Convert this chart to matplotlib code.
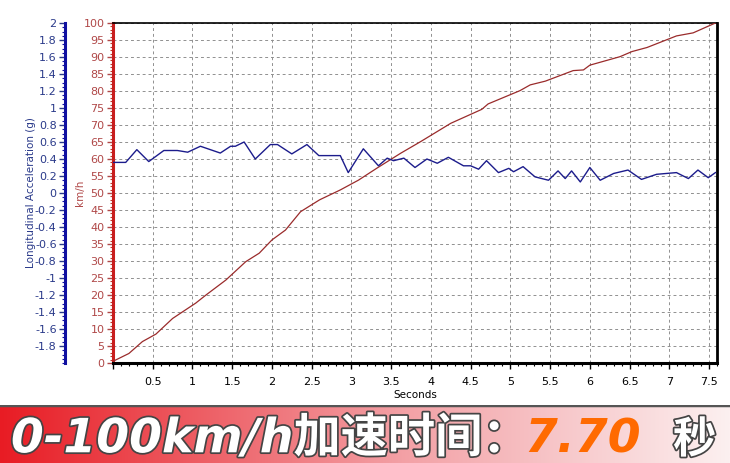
import numpy as np
import matplotlib.pyplot as plt
import matplotlib.patheffects as pe
from matplotlib.ticker import MultipleLocator, FuncFormatter

# speed trace (km/h)
speed_t = [0.0, 0.20, 0.37, 0.54, 0.75, 1.04, 1.17, 1.42, 1.67, 1.84, 2.00, 2.17,
           2.36, 2.60, 2.86, 3.09, 3.32, 3.62, 3.87, 4.25, 4.64, 4.72, 5.12, 5.25,
           5.44, 5.79, 5.92, 6.00, 6.38, 6.53, 6.72, 7.09, 7.30, 7.58]
speed_v = [0.5, 2.8, 6.3, 8.5, 13.1, 17.6, 20.0, 24.4, 29.8, 32.3, 36.2, 39.1,
           44.5, 48.0, 50.9, 53.8, 57.3, 61.7, 65.1, 70.5, 74.6, 76.2, 80.1, 81.8,
           82.9, 86.0, 86.2, 87.6, 90.1, 91.6, 92.8, 96.2, 97.1, 100.0]

# longitudinal acceleration trace (g)
acc_t = [0.0, 0.16, 0.30, 0.45, 0.64, 0.81, 0.94, 1.10, 1.35, 1.48, 1.54, 1.65,
         1.79, 1.98, 2.07, 2.25, 2.44, 2.59, 2.86, 2.96, 3.15, 3.34, 3.45, 3.53,
         3.66, 3.80, 3.95, 4.08, 4.22, 4.41, 4.50, 4.60, 4.70, 4.85, 4.98, 5.04,
         5.16, 5.31, 5.48, 5.60, 5.69, 5.77, 5.88, 6.00, 6.13, 6.30, 6.48, 6.65,
         6.84, 7.09, 7.24, 7.36, 7.49, 7.58]
acc_g = [0.36, 0.36, 0.51, 0.37, 0.50, 0.50, 0.48, 0.55, 0.47, 0.55, 0.55, 0.60,
         0.40, 0.57, 0.57, 0.46, 0.57, 0.44, 0.44, 0.24, 0.52, 0.32, 0.41, 0.38,
         0.41, 0.30, 0.40, 0.35, 0.42, 0.32, 0.32, 0.28, 0.38, 0.24, 0.29, 0.25,
         0.31, 0.19, 0.15, 0.26, 0.17, 0.26, 0.13, 0.30, 0.15, 0.23, 0.27, 0.16,
         0.22, 0.24, 0.17, 0.27, 0.18, 0.24]

banner_text = "0-100km/h加速时间："
banner_time = "7.70"
banner_unit = "秒"

RED = '#c0392b'
RED_TXT = '#b04848'
BLUE = '#1c1c8c'
BLUE_TXT = '#2a3a8a'


def fmt_num(v, p):
    v = round(v, 2)
    if v == 0:
        return '0'
    return f'{v:g}'


fig = plt.figure(figsize=(7.3, 4.63), dpi=100)
ax = fig.add_axes([113/730, 1-363/463, 604/730, 340/463])

# velocity axis
ax.plot(speed_t, speed_v, color='#9a2b2b', lw=0.9, zorder=3)
ax.set_xlim(0, 7.6)
ax.set_ylim(0, 100)
ax.yaxis.set_major_locator(MultipleLocator(5))
ax.yaxis.set_minor_locator(MultipleLocator(1))
ax.xaxis.set_major_locator(MultipleLocator(0.5))
ax.xaxis.set_minor_locator(MultipleLocator(0.1))
ax.xaxis.set_major_formatter(FuncFormatter(lambda v, p: '' if abs(v) < 1e-9 else f'{v:g}'))
ax.grid(True, which='major', color='#909090', ls=(0, (3, 3)), lw=0.7)
ax.tick_params(axis='y', which='major', colors=RED_TXT, labelsize=8, length=4, width=1, pad=2)
ax.tick_params(axis='y', which='minor', colors=RED, length=2, width=0.8)
ax.tick_params(axis='x', which='major', colors='black', labelsize=8, length=4, width=1, pad=6)
ax.tick_params(axis='x', which='minor', colors='black', length=2, width=0.8)
for s in ('top', 'right'):
    ax.spines[s].set_color('black')
ax.spines['top'].set_linewidth(1.2)
ax.spines['right'].set_linewidth(2.0)
ax.spines['bottom'].set_linewidth(2.2)
ax.spines['left'].set_color('#c81e1e')
ax.spines['left'].set_linewidth(2.2)
ax.set_xlabel('Seconds', fontsize=7.5, labelpad=2)
ax.set_ylabel('km/h', color=RED_TXT, fontsize=7.5, labelpad=-1)

# acceleration axis
ax2 = ax.twinx()
ax2.plot(acc_t, acc_g, color=BLUE, lw=1.0, zorder=4)
ax2.set_ylim(-2, 2)
ax2.spines['left'].set_position(('axes', -48/604))
ax2.spines['left'].set_visible(True)
ax2.spines['left'].set_color('#1010a0')
ax2.spines['left'].set_linewidth(2.2)
ax2.spines['right'].set_visible(False)
ax2.spines['top'].set_visible(False)
ax2.spines['bottom'].set_visible(False)
ax2.yaxis.set_ticks_position('left')
ax2.yaxis.set_label_position('left')
ax2.set_yticks(np.round(np.arange(-1.8, 2.01, 0.2), 1))
ax2.yaxis.set_minor_locator(MultipleLocator(0.05))
ax2.yaxis.set_major_formatter(FuncFormatter(fmt_num))
ax2.tick_params(axis='y', which='major', colors=BLUE_TXT, labelsize=8, length=4, width=1, pad=2)
ax2.tick_params(axis='y', which='minor', colors='#1010a0', length=2, width=0.8)
ax2.set_ylabel('Longitudinal Acceleration (g)', color=BLUE_TXT, fontsize=7.5, labelpad=-1)

# banner at the bottom
bax = fig.add_axes([0, 0, 1, 58/463])
grad = np.linspace(0, 1, 400)
left_c = np.array([232, 28, 36]) / 255
mid_c = np.array([243, 160, 165]) / 255
right_c = np.array([252, 240, 240]) / 255
cols = np.where(grad[:, None] < 0.55,
                left_c + (mid_c - left_c) * (grad[:, None] / 0.55),
                mid_c + (right_c - mid_c) * ((grad[:, None] - 0.55) / 0.45))
bax.imshow(cols[None, :, :], aspect='auto', extent=[0, 1, 0, 1])
bax.axhline(1, color='#555555', lw=2.5)
bax.set_xlim(0, 1)
bax.set_ylim(0, 1)
bax.axis('off')

outline = [pe.withStroke(linewidth=2.5, foreground='#444444')]
fam = ['DejaVu Sans', 'Noto Sans CJK SC']
bax.text(0.015, 0.40, banner_text, fontsize=34, fontweight='bold', style='italic',
         family=fam, color='white', va='center', ha='left', path_effects=outline)
bax.text(0.718, 0.40, banner_time, fontsize=34, fontweight='bold', style='italic',
         family=fam, color='#ff6a00', va='center', ha='left')
bax.text(0.922, 0.40, banner_unit, fontsize=31, fontweight='bold',
         family=['Noto Sans CJK SC'], color='white', va='center', ha='left', path_effects=outline)

fig.savefig('out.png', dpi=100)
